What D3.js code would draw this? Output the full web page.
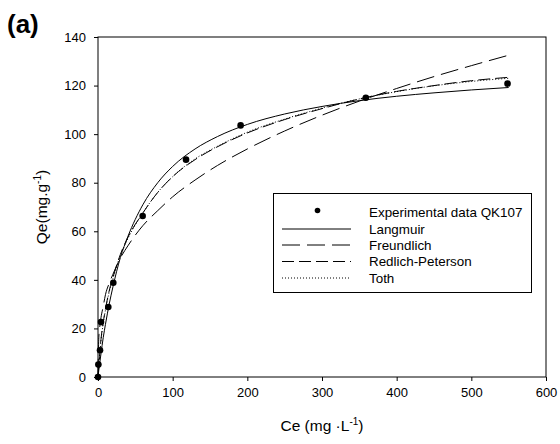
<!DOCTYPE html>
<html><head><meta charset="utf-8">
<script src="https://cdn.jsdelivr.net/npm/d3@7/dist/d3.min.js"></script>
<style>body{margin:0;background:#fff}svg{display:block}text{font-family:"Liberation Sans",Arial,sans-serif}</style>
</head><body><svg id="c" width="560" height="444"></svg>
<script>
// Experimental data
const expCe = [0, 0.5, 2.7, 4, 13.8, 20.5, 59.8, 117.9, 191, 358.7, 548.5];
const expQe = [0, 5.1, 11, 22.6, 28.8, 38.8, 66.3, 89.5, 103.6, 115, 120.8];
// Model curves
const modelCe = [0, 1, 2, 4, 7, 10, 15, 20, 30, 40, 60, 80, 100, 130, 160, 200, 250, 300, 350, 400, 450, 500, 550];
const langmuir = [0, 2.6, 5.0, 9.6, 16.2, 21.7, 30, 37.1, 49.2, 57.8, 70.9, 80, 86.7, 93.9, 99.0, 104, 108.3, 111.4, 113.8, 115.6, 117, 118.2, 119.2];
const freundlich = [0, 15.5, 19.6, 24.4, 29.1, 33.9, 38.6, 42.3, 49.0, 54.0, 62.3, 68.5, 74.2, 81.1, 87.1, 93.9, 101.3, 107.8, 113.6, 118.8, 123.7, 128.2, 132.5];
const redlich = [0, 4.5, 8.5, 15.5, 22.5, 28, 35.5, 41, 50.5, 57.5, 67.5, 76, 82.5, 89.5, 94.8, 100.5, 106, 110.5, 114.5, 117.6, 120, 122, 123.4];
const toth = [0, 4, 8, 15, 22, 27.5, 35, 40.5, 50, 57, 67.5, 76, 82.5, 89.8, 95, 100.8, 106.2, 110.7, 114.5, 117.5, 119.9, 121.7, 123];
const xTicks = [0, 100, 200, 300, 400, 500, 600];
const yTicks = [0, 20, 40, 60, 80, 100, 120, 140];
const legendLabels = ["Experimental data QK107", "Langmuir", "Freundlich", "Redlich-Peterson", "Toth"];

const svg = d3.select("#c");
const L = 98, R = 546, T = 37, B = 377;
const x = d3.scaleLinear().domain([0, 600]).range([L, R]);
const y = d3.scaleLinear().domain([0, 140]).range([B, T]);

svg.append("rect").attr("x", L).attr("y", T).attr("width", R - L).attr("height", B - T)
  .attr("fill", "none").attr("stroke", "#000").attr("stroke-width", 1);

const xa = svg.append("g").attr("transform", `translate(0,${B})`)
  .call(d3.axisBottom(x).tickValues(xTicks).tickSize(4).tickPadding(7).tickFormat(d3.format("d")));
const ya = svg.append("g").attr("transform", `translate(${L},0)`)
  .call(d3.axisLeft(y).tickValues(yTicks).tickSize(4).tickPadding(8).tickFormat(d3.format("d")));
[xa, ya].forEach(g => {
  g.select(".domain").remove();
  g.selectAll("text").attr("font-size", 13).attr("font-family", "Liberation Sans, Arial, sans-serif").attr("fill", "#000");
  g.selectAll("line").attr("stroke", "#000");
});

const models = [
  {vals: langmuir, dash: null},
  {vals: freundlich, dash: "18,7"},
  {vals: redlich, dash: "12,5"},
  {vals: toth, dash: "1,2"}
];
const line = d3.line().x(d => x(d[0])).y(d => y(d[1])).curve(d3.curveMonotoneX);
models.forEach(m => {
  svg.append("path").datum(modelCe.map((c, i) => [c, m.vals[i]]))
    .attr("d", line).attr("fill", "none").attr("stroke", "#000").attr("stroke-width", 1)
    .attr("stroke-dasharray", m.dash);
});

svg.append("g").selectAll("circle").data(expCe.map((c, i) => [c, expQe[i]])).join("circle")
  .attr("cx", d => x(d[0])).attr("cy", d => y(d[1])).attr("r", 3.3).attr("fill", "#000");

// legend
const lg = svg.append("g");
lg.append("rect").attr("x", 273.5).attr("y", 193.5).attr("width", 258).attr("height", 99)
  .attr("fill", "#fff").attr("stroke", "#000").attr("stroke-width", 1);
const rowY = [212.5, 229, 245, 261.5, 278];
lg.append("circle").attr("cx", 317.5).attr("cy", rowY[0] - 2).attr("r", 2.8).attr("fill", "#000");
models.forEach((m, i) => {
  lg.append("line").attr("x1", 282).attr("x2", 351).attr("y1", rowY[i + 1]).attr("y2", rowY[i + 1])
    .attr("stroke", "#000").attr("stroke-width", 1).attr("stroke-dasharray", m.dash);
});
legendLabels.forEach((t, i) => {
  lg.append("text").attr("x", 369).attr("y", rowY[i]).attr("dy", "0.35em")
    .attr("font-size", 13.4).text(t);
});

// axis titles
const xt = svg.append("text").attr("x", 322).attr("y", 431).attr("text-anchor", "middle").attr("font-size", 15.5);
xt.append("tspan").text("Ce (mg ·L");
xt.append("tspan").attr("dy", -6).attr("font-size", 10).text("-1");
xt.append("tspan").attr("dy", 6).text(")");

const yt = svg.append("text").attr("transform", "translate(47,207) rotate(-90)").attr("text-anchor", "middle").attr("font-size", 15.5);
yt.append("tspan").text("Qe(mg.g");
yt.append("tspan").attr("dy", -6).attr("font-size", 10).text("-1");
yt.append("tspan").attr("dy", 6).text(")");

svg.append("text").attr("x", 7).attr("y", 33).attr("font-size", 26).attr("font-weight", "bold").text("(a)");
</script></body></html>
